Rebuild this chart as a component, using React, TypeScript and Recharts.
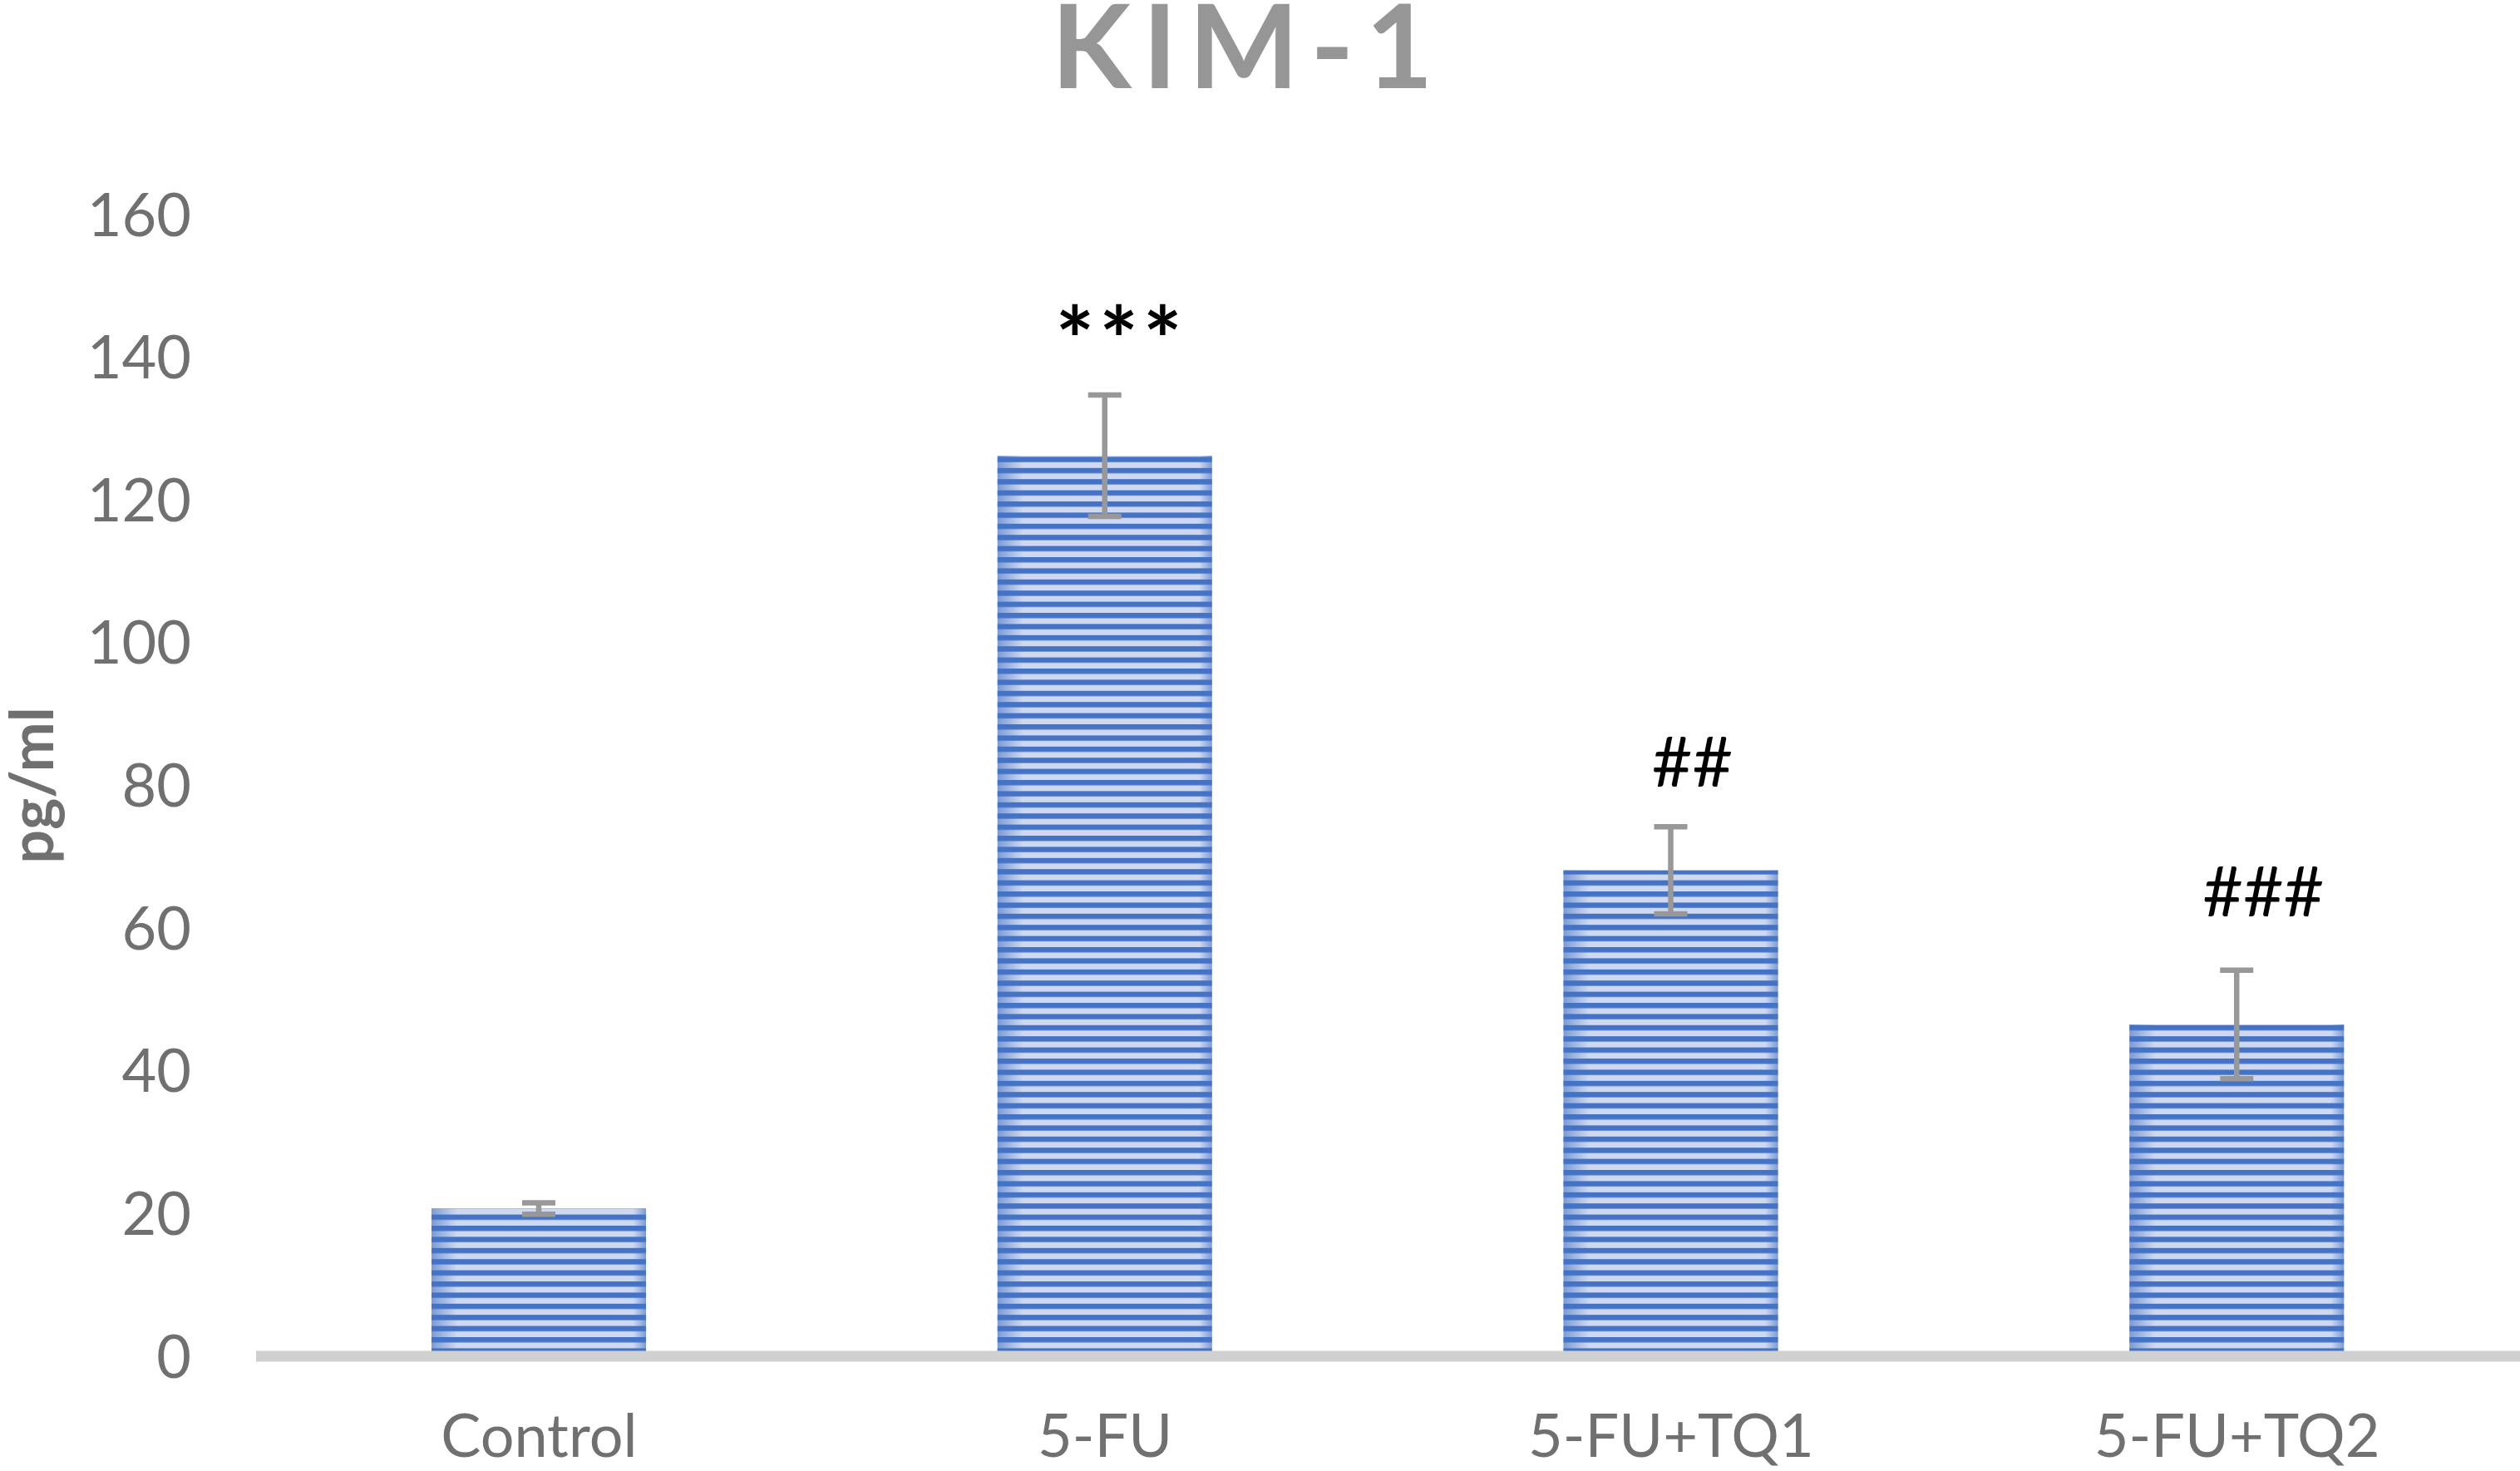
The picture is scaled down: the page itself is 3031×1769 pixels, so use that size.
import { BarChart, Bar, XAxis, YAxis, ErrorBar, LabelList, Label } from "recharts";

const GROUPS = ["Control", "5-FU", "5-FU+TQ1", "5-FU+TQ2"];
const MEANS = [20.7, 126.2, 68.1, 46.5];
const ERRORS = [0.8, 8.5, 6.1, 7.6];
const MARKS = ["", "***", "##", "###"];
const Y_TICKS = [0, 20, 40, 60, 80, 100, 120, 140, 160];

const data = GROUPS.map((g, i) => ({ group: g, kim1: MEANS[i], err: ERRORS[i], mark: MARKS[i] }));

const FONT = "Lato, 'Open Sans', sans-serif";
const GREY_TEXT = "#707070";

// hand-placed significance marks in the original, so nudge each one
const MARK_LIFT = [0, 26, 48, 65];
const MARK_DX = [0, 17, 26, 32];

const StripedBar = (props: any) => {
  const { x, y, width, height } = props;
  if (!height || height <= 0) return null;
  return (
    <g>
      <rect x={x} y={y} width={width} height={height} fill="url(#kimStripes)" />
      <rect x={x} y={y} width={width} height={height} fill="url(#kimEdge)" />
    </g>
  );
};

const renderMark = (props: any) => {
  const { x, y, width, height, value, index } = props;
  if (!value) return null;
  const pxPerUnit = height / MEANS[index];
  const errTop = y - ERRORS[index] * pxPerUnit;
  const isStar = String(value).startsWith("*");
  const ls = isStar ? 6 : 0;
  return (
    <text
      x={x + width / 2 + MARK_DX[index] + ls / 2}
      y={errTop - MARK_LIFT[index]}
      textAnchor="middle"
      fill="#000"
      fontSize={isStar ? 110 : 84}
      fontWeight={isStar ? "bold" : "normal"}
      fontFamily={FONT}
      letterSpacing={ls}
    >
      {value}
    </text>
  );
};

const YLabel = (props: any) => {
  const { viewBox } = props;
  const cx = viewBox.x + 64;
  const cy = viewBox.y + viewBox.height / 2;
  return (
    <text
      x={cx}
      y={cy}
      transform={`rotate(-90, ${cx}, ${cy})`}
      textAnchor="middle"
      fill={GREY_TEXT}
      fontSize={72}
      fontWeight="bold"
      fontFamily={FONT}
    >
      pg/ml
    </text>
  );
};

export default function App() {
  return (
    <div style={{ position: "absolute", left: 0, top: 0, width: 3031, height: 1769, background: "#fff" }}>
      <svg width={3031} height={160} style={{ position: "absolute", left: 0, top: 0 }}>
        <text
          x={1495 + 6}
          y={106}
          textAnchor="middle"
          fill="#969696"
          fontSize={140}
          fontWeight="bold"
          fontFamily={FONT}
          letterSpacing={14}
        >
          KIM-1
        </text>
      </svg>
      <BarChart
        width={3031}
        height={1769}
        data={data}
        margin={{ top: 258, right: 0, left: 0, bottom: 0 }}
        barSize={258}
      >
        <defs>
          <pattern id="kimStripes" patternUnits="userSpaceOnUse" width={20} height={13.4}>
            <rect width={20} height={13.4} fill="#CED9F1" />
            <rect width={20} height={6.4} fill="#4472C4" />
          </pattern>
          <linearGradient id="kimEdge" x1="0" y1="0" x2="1" y2="0">
            <stop offset="0" stopColor="#4472C4" stopOpacity={0.6} />
            <stop offset="0.12" stopColor="#4472C4" stopOpacity={0} />
            <stop offset="0.94" stopColor="#4472C4" stopOpacity={0} />
            <stop offset="1" stopColor="#4472C4" stopOpacity={0.6} />
          </linearGradient>
        </defs>
        <YAxis
          type="number"
          domain={[0, 160]}
          ticks={Y_TICKS}
          width={308}
          axisLine={false}
          tickLine={false}
          tickSize={0}
          tickMargin={78}
          tick={{ fill: GREY_TEXT, fontSize: 72, fontFamily: FONT }}
        >
          <Label content={YLabel} />
        </YAxis>
        <Bar dataKey="kim1" shape={StripedBar} isAnimationActive={false}>
          <ErrorBar dataKey="err" direction="y" width={20} strokeWidth={6.5} stroke="#989898" />
          <LabelList dataKey="mark" content={renderMark} />
        </Bar>
        <XAxis
          dataKey="group"
          height={138}
          axisLine={{ stroke: "#D0D0D0", strokeWidth: 13 }}
          tickLine={false}
          tickSize={0}
          tickMargin={70}
          tick={{ fill: GREY_TEXT, fontSize: 72, fontFamily: FONT }}
          interval={0}
        />
      </BarChart>
    </div>
  );
}
